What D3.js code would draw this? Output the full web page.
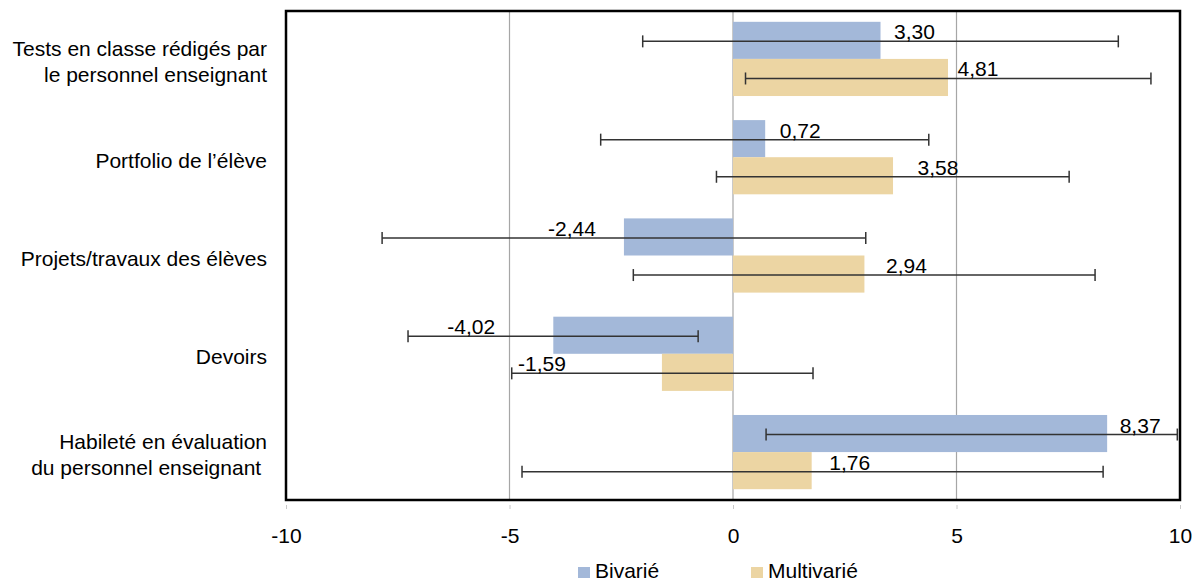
<!DOCTYPE html>
<html>
<head>
<meta charset="utf-8">
<script src="https://cdn.jsdelivr.net/npm/d3@7"></script>
<style>
  html, body { margin: 0; padding: 0; background: #fff; }
  svg { display: block; font-family: "Liberation Sans", Arial, sans-serif; }
</style>
</head>
<body>
<svg id="chart" width="1193" height="583"></svg>
<script>
// ---- data ----
const categories = [
  ["Tests en classe rédigés par", "le personnel enseignant"],
  ["Portfolio de l\u2019élève"],
  ["Projets/travaux des élèves"],
  ["Devoirs"],
  ["Habileté en évaluation", "du personnel enseignant "]
];
const seriesNames = ["Bivarié", "Multivarié"];
const bivarieValues = [3.30, 0.72, -2.44, -4.02, 8.37];
const bivarieLow    = [-2.02, -2.96, -7.85, -7.27, 0.74];
const bivarieHigh   = [8.62, 4.38, 2.97, -0.78, 9.94];
const multivarieValues = [4.81, 3.58, 2.94, -1.59, 1.76];
const multivarieLow    = [0.28, -0.37, -2.23, -4.95, -4.72];
const multivarieHigh   = [9.35, 7.52, 8.10, 1.79, 8.28];
const xTicks = [-10, -5, 0, 5, 10];
const xTickLabels = ["-10", "-5", "0", "5", "10"];
const gridValues = [-5, 0, 5];

// ---- layout / style ----
const colors = ["#a3b8d9", "#ecd5a3"];
const frame = { left: 286, right: 1180, top: 11, bottom: 500 };
const fontSize = 21;
// manual label nudges (px from bar end), as in the original chart
const labelNudge = [
  [34, 35, -52, -82, 33],
  [30, 45, 42, -120, 38]
];

const svg = d3.select("#chart");
const catIdx = categories.map((_, i) => i);

const x = d3.scaleLinear().domain([-10, 10]).range([frame.left, frame.right]);
const y = d3.scaleBand().domain(catIdx).range([frame.top, frame.bottom])
  .paddingInner(0.245).paddingOuter(0.11);
const ySub = d3.scaleBand().domain([0, 1]).range([0, y.bandwidth()]);

const series = [
  { name: seriesNames[0], values: bivarieValues, low: bivarieLow, high: bivarieHigh },
  { name: seriesNames[1], values: multivarieValues, low: multivarieLow, high: multivarieHigh }
];

// gridlines
svg.append("g").selectAll("line").data(gridValues).join("line")
  .attr("x1", d => x(d)).attr("x2", d => x(d))
  .attr("y1", frame.top).attr("y2", frame.bottom)
  .attr("stroke", "#a6a6a6").attr("stroke-width", 1.2);

// bars
series.forEach((s, si) => {
  svg.append("g").selectAll("rect").data(catIdx).join("rect")
    .attr("x", i => x(Math.min(0, s.values[i])))
    .attr("width", i => Math.abs(x(s.values[i]) - x(0)))
    .attr("y", i => y(i) + ySub(si))
    .attr("height", ySub.bandwidth())
    .attr("fill", colors[si]);
});

// error bars
const capH = 12;
series.forEach((s, si) => {
  const g = svg.append("g").attr("stroke", "#333").attr("stroke-width", 1.5).attr("fill", "none");
  catIdx.forEach(i => {
    const cy = y(i) + ySub(si) + ySub.bandwidth() / 2 + 1;
    g.append("line").attr("x1", x(s.low[i])).attr("x2", x(s.high[i])).attr("y1", cy).attr("y2", cy);
    [s.low[i], s.high[i]].forEach(v => {
      g.append("line").attr("x1", x(v)).attr("x2", x(v))
        .attr("y1", cy - capH / 2).attr("y2", cy + capH / 2);
    });
  });
});

// value labels
const fmt = v => v.toFixed(2).replace(".", ",");
series.forEach((s, si) => {
  svg.append("g").selectAll("text").data(catIdx).join("text")
    .attr("x", i => x(s.values[i]) + labelNudge[si][i])
    .attr("y", i => y(i) + ySub(si) + ySub.bandwidth() / 2 - 1)
    .attr("text-anchor", "middle")
    .attr("font-size", fontSize)
    .attr("fill", "#000")
    .text(i => fmt(s.values[i]));
});

// frame
svg.append("rect")
  .attr("x", frame.left).attr("y", frame.top)
  .attr("width", frame.right - frame.left).attr("height", frame.bottom - frame.top)
  .attr("fill", "none").attr("stroke", "#000").attr("stroke-width", 2.5);

// x axis
const xAxis = d3.axisBottom(x).tickValues(xTicks)
  .tickFormat((d, i) => xTickLabels[i]).tickSize(4).tickPadding(19);
const ax = svg.append("g").attr("transform", `translate(0,${frame.bottom + 5})`).call(xAxis);
ax.select(".domain").remove();
ax.selectAll(".tick line").attr("stroke", "#c8c8c8");
ax.selectAll(".tick text").attr("font-size", fontSize).attr("fill", "#000")
  .attr("font-family", "'Liberation Sans', Arial, sans-serif");

// category labels
const catG = svg.append("g");
categories.forEach((lines, i) => {
  const cy = y(i) + y.bandwidth() / 2 + 3;
  const lh = 26;
  const t = catG.append("text")
    .attr("text-anchor", "end")
    .attr("font-size", fontSize)
    .attr("fill", "#000")
    .style("white-space", "pre");
  lines.forEach((ln, k) => {
    t.append("tspan")
      .attr("x", 267)
      .attr("y", cy + (k - (lines.length - 1) / 2) * lh)
      .attr("dy", "0.35em")
      .text(ln);
  });
});

// legend
const legendX = [578, 751];
const lg = svg.append("g");
seriesNames.forEach((n, i) => {
  lg.append("rect").attr("x", legendX[i]).attr("y", 567).attr("width", 12).attr("height", 11)
    .attr("fill", colors[i]);
  lg.append("text").attr("x", legendX[i] + 17).attr("y", 577.5)
    .attr("font-size", fontSize).attr("fill", "#000").text(n);
});
</script>
</body>
</html>
